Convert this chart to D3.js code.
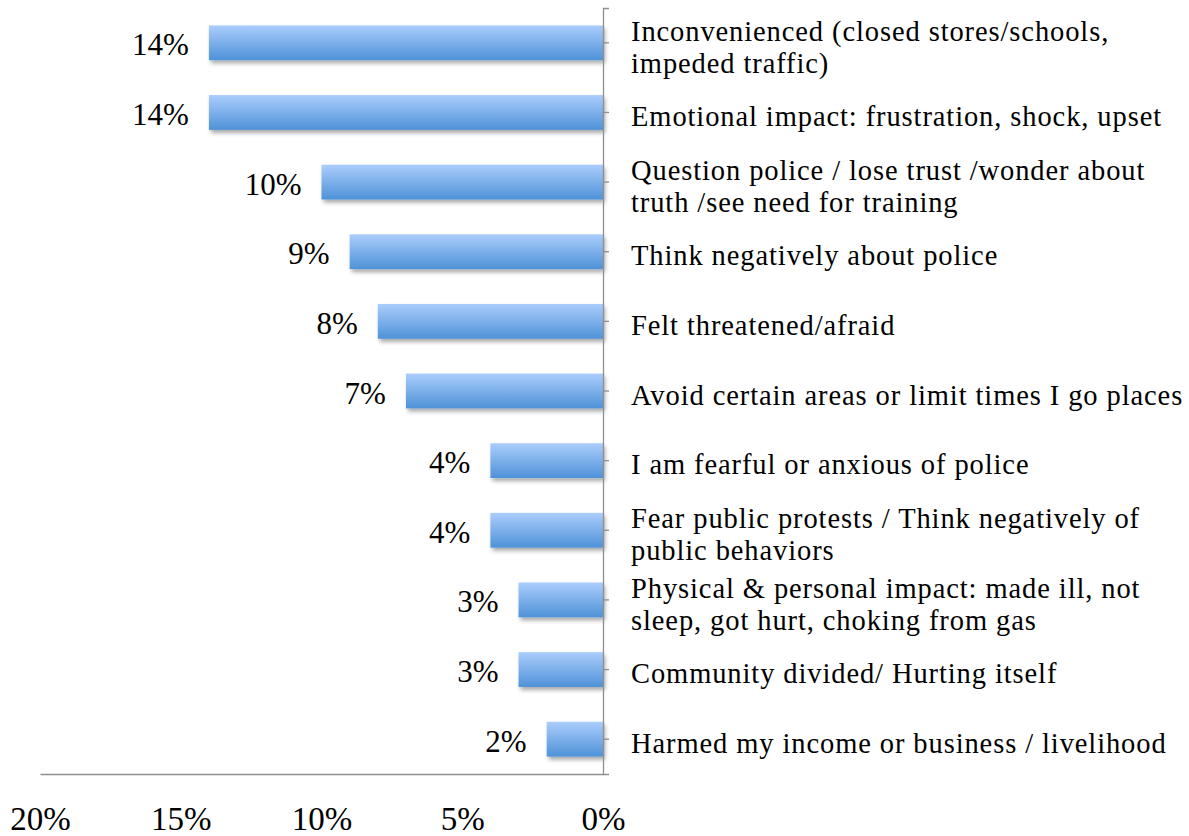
<!DOCTYPE html>
<html>
<head>
<meta charset="utf-8">
<script src="https://cdn.jsdelivr.net/npm/d3@7"></script>
<style>
  html, body { margin: 0; padding: 0; background: #fff; }
  svg { display: block; }
</style>
</head>
<body>
<svg id="chart" width="1189" height="836"></svg>
<script>
const categories = [
  "Inconvenienced (closed stores/schools,\nimpeded traffic)",
  "Emotional impact: frustration, shock, upset",
  "Question police / lose trust /wonder about\ntruth /see need for training",
  "Think negatively about police",
  "Felt threatened/afraid",
  "Avoid certain areas or limit times I go places",
  "I am fearful or anxious of police",
  "Fear public protests / Think negatively of\npublic behaviors",
  "Physical & personal impact: made ill, not\nsleep, got hurt, choking from gas",
  "Community divided/ Hurting itself",
  "Harmed my income or business / livelihood"
];
const values = [14, 14, 10, 9, 8, 7, 4, 4, 3, 3, 2];
const xTicks = [20, 15, 10, 5, 0];

(function () {
const svg = d3.select("#chart");
const FONT = "'Liberation Serif', 'DejaVu Serif', serif";

const longest = "Avoid certain areas or limit times I go places";
const probe = svg.append("text").attr("font-family", FONT).attr("font-size", 100)
  .text(longest);
const probeLen = probe.node().getComputedTextLength();
probe.remove();
const fsCat = Math.min(28.5, 100 * 552 / probeLen);
const natural = probeLen * fsCat / 100;
const catSpacing = Math.max(0, (552 - natural) / longest.length);
const fsVal = 31;
const fsTick = 33;

const pLeft = 40, pRight = 603, pTop = 8, pBottom = 774;

const x = d3.scaleLinear().domain([20, 0]).range([pLeft, pRight]);
const y = d3.scaleBand().domain(categories).range([pTop, pBottom])
  .paddingInner(0.5).paddingOuter(0.25);

const defs = svg.append("defs");
const grad = defs.append("linearGradient").attr("id", "barGrad")
  .attr("x1", 0).attr("y1", 0).attr("x2", 0).attr("y2", 1);
grad.append("stop").attr("offset", "0%").attr("stop-color", "#abcdfc");
grad.append("stop").attr("offset", "100%").attr("stop-color", "#4e92d8");
const filt = defs.append("filter").attr("id", "shadow")
  .attr("x", "-10%").attr("y", "-30%").attr("width", "130%").attr("height", "180%");
filt.append("feDropShadow").attr("dx", 2).attr("dy", 3).attr("stdDeviation", 2)
  .attr("flood-color", "#000").attr("flood-opacity", 0.35);

svg.append("g").selectAll("rect").data(values).join("rect")
  .attr("x", d => x(d))
  .attr("y", (d, i) => y(categories[i]))
  .attr("width", d => x(0) - x(d))
  .attr("height", y.bandwidth())
  .attr("fill", "url(#barGrad)")
  .attr("filter", "url(#shadow)");

svg.append("g").selectAll("text").data(values).join("text")
  .attr("x", d => x(d) - 20)
  .attr("y", (d, i) => y(categories[i]) + y.bandwidth() / 2 + 2)
  .attr("dy", "0.34em")
  .attr("text-anchor", "end")
  .attr("font-family", FONT)
  .attr("font-size", fsVal)
  .attr("fill", "#000")
  .text(d => d + "%");

const yAxis = svg.append("g").attr("transform", `translate(${pRight},0)`)
  .call(d3.axisRight(y).tickSize(6).tickSizeOuter(6).tickFormat(""));
yAxis.selectAll("path, line").attr("stroke", "#8f8f8f").attr("stroke-width", 1.3);

const lh = 32;
const catG = svg.append("g");
categories.forEach(c => {
  const lines = c.split("\n");
  const cy = y(c) + y.bandwidth() / 2 + 4;
  const t = catG.append("text")
    .attr("font-family", FONT)
    .attr("font-size", fsCat)
    .attr("letter-spacing", catSpacing.toFixed(2) + "px")
    .attr("fill", "#000")
    .attr("x", 631)
    .attr("y", cy - (lines.length - 1) * lh / 2);
  lines.forEach((l, j) => {
    t.append("tspan").attr("x", 631).attr("dy", j === 0 ? "0.34em" : lh).text(l);
  });
});

const xAxis = svg.append("g").attr("transform", `translate(0,${pBottom})`)
  .call(d3.axisBottom(x).tickValues(xTicks).tickSize(0).tickSizeOuter(0)
    .tickPadding(33).tickFormat(d => d + "%"));
xAxis.select(".domain").attr("stroke", "#8f8f8f").attr("stroke-width", 1.3);
xAxis.selectAll("text").attr("font-family", FONT).attr("font-size", fsTick).attr("fill", "#000");
})();
</script>
</body>
</html>
